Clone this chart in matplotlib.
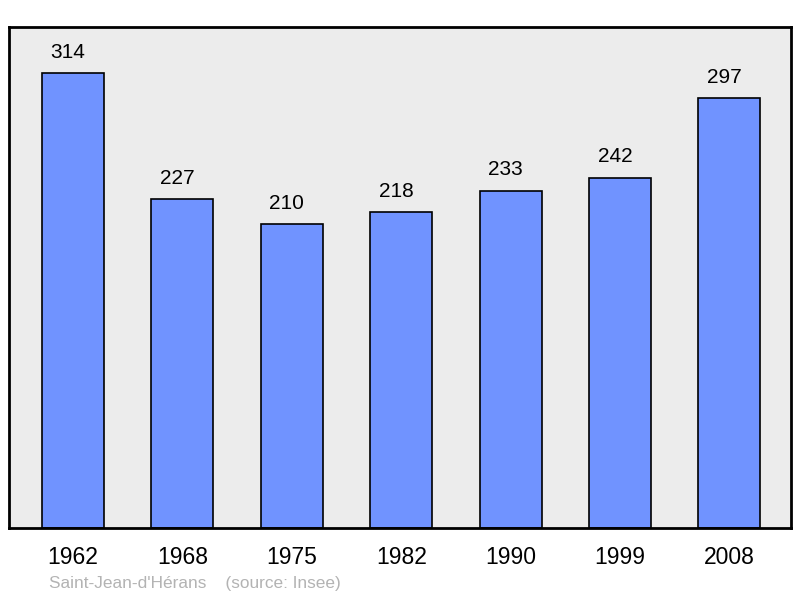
import matplotlib.pyplot as plt
import numpy as np

plt.rcParams['font.family'] = ['Liberation Sans', 'DejaVu Sans']

annees = ['1962', '1968', '1975', '1982', '1990', '1999', '2008']
population = [314, 227, 210, 218, 233, 242, 297]
commune = "Saint-Jean-d'Hérans"
source = '(source: Insee)'

fig = plt.figure(figsize=(8, 5.98), dpi=100)
ax = fig.add_axes([0.01125, 0.1171, 0.9775, 0.8378])
ax.set_facecolor('#ececec')

x = np.arange(len(annees))
ax.bar(x, population, width=0.567, color='#7093ff', edgecolor='black', linewidth=1.2, zorder=2)

# etiquetas un poco a la izquierda, como en el original
for xi, v in zip(x, population):
    ax.annotate(str(v), (xi, v), xytext=(-3.6, 11), textcoords='offset points',
                ha='center', va='baseline', fontsize=15)

ax.set_xlim(-0.585, 6.563)
ax.set_ylim(0, 346)
ax.set_yticks([])
ax.set_xticks(x)
ax.set_xticklabels(annees, fontsize=16.5)
ax.tick_params(axis='x', length=0, pad=13)
for s in ax.spines.values():
    s.set_linewidth(2)

fig.text(49 / 800, 1 - 588 / 598, commune + '    ' + source, color='#b3b3b3',
         fontsize=12.4, ha='left', va='baseline')

fig.savefig('out.png', dpi=100)
